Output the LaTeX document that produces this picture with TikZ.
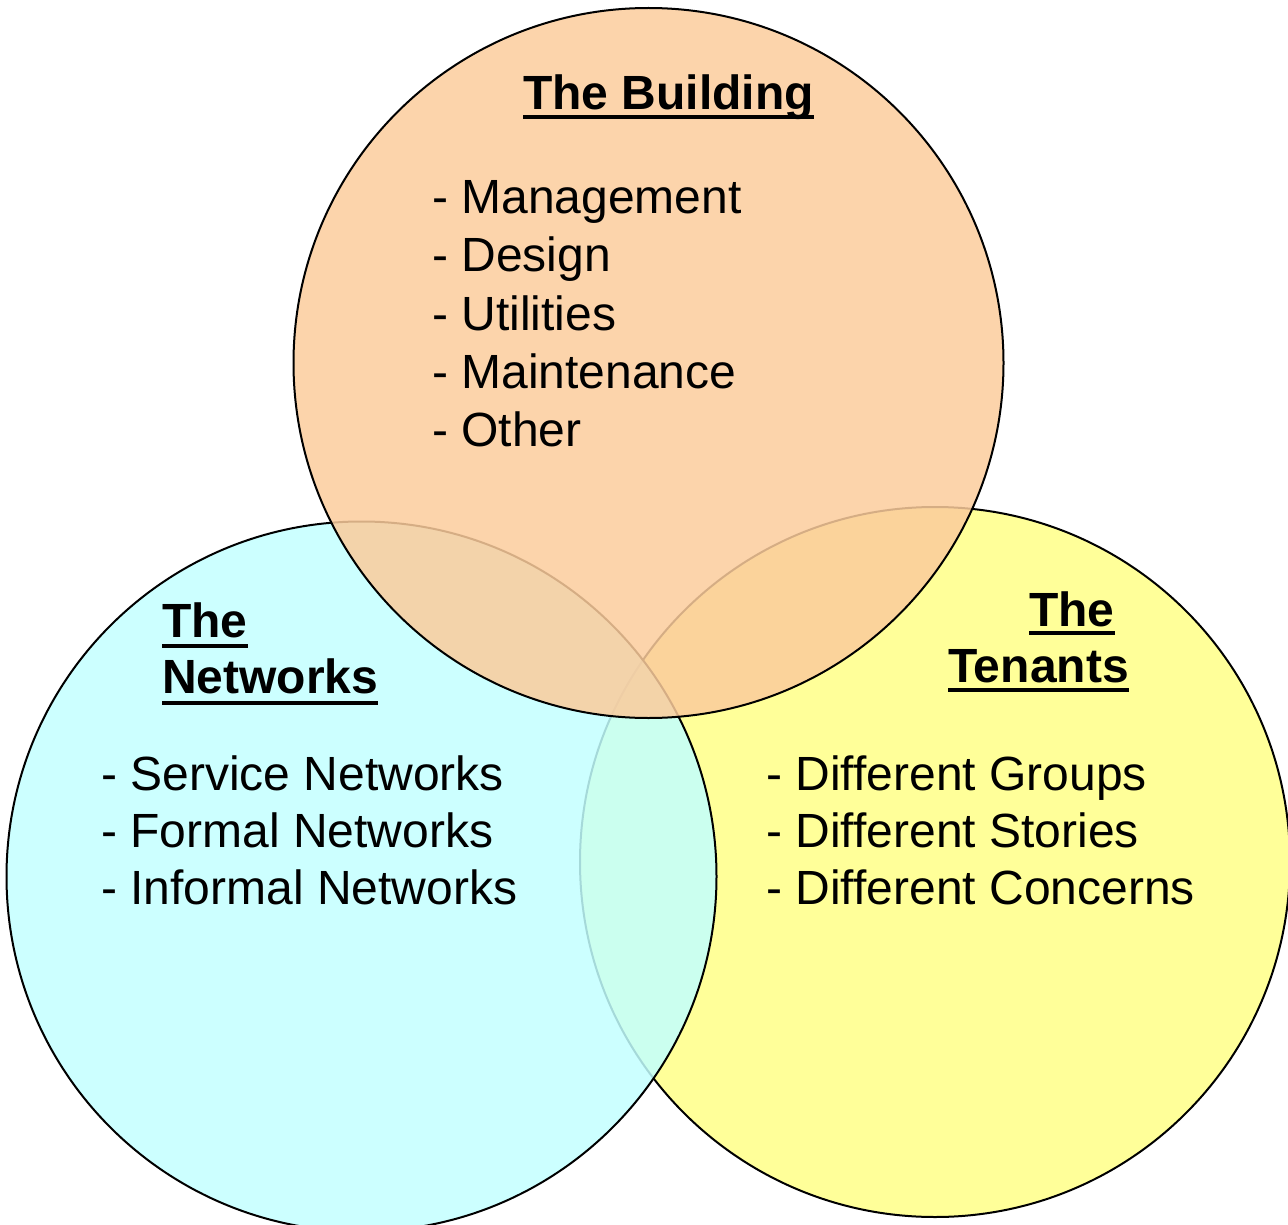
\documentclass[tikz,border=0pt]{standalone}
\usepackage{fontspec}
\setmainfont{Liberation Sans}
\definecolor{bldg}{RGB}{251,204,156}
\definecolor{netw}{RGB}{195,255,255}
\definecolor{tent}{RGB}{255,255,153}
\begin{document}
\begin{tikzpicture}[x=1pt,y=-1pt,
  venn/.style={circle, draw=black, line width=2pt, inner sep=0pt, minimum size=710pt},
  title/.style={anchor=base west, inner sep=0pt, font=\bfseries\fontsize{48}{58}\selectfont},
  item/.style={anchor=base west, inner sep=0pt, font=\fontsize{48}{57}\selectfont},
  uline/.style={line width=4.5pt}]
\useasboundingbox (0,0) rectangle (1288,1225);
\clip (0,0) rectangle (1288,1225);
% circles
\node[venn, fill=tent] (tenants) at (935,862) {};
\node[venn, fill=netw, fill opacity=0.85] (networks) at (361.5,876.5) {};
\node[venn, fill=bldg, fill opacity=0.85] (building) at (648.5,363) {};
% The Building
\node[title] (bT) at (523,110) {The Building};
\draw[uline] ([yshift=-7pt]bT.base west) -- ([yshift=-7pt]bT.base east);
\node[item] (b1) at (432,214) {- Management};
\node[item] (b2) at (432,272) {- Design};
\node[item] (b3) at (432,330) {- Utilities};
\node[item] (b4) at (432,388) {- Maintenance};
\node[item] (b5) at (432,446) {- Other};
% The Networks
\node[title] (nT1) at (162,637) {The};
\draw[uline] ([yshift=-9pt]nT1.base west) -- ([yshift=-9pt]nT1.base east);
\node[title] (nT2) at (162,693) {Networks};
\draw[uline] ([yshift=-10pt]nT2.base west) -- ([yshift=-10pt]nT2.base east);
\node[item] (n1) at (101,790) {- Service Networks};
\node[item] (n2) at (101,847) {- Formal Networks};
\node[item] (n3) at (101,904) {- Informal Networks};
% The Tenants
\node[title] (tT1) at (1029,626) {The};
\draw[uline] ([yshift=-7pt]tT1.base west) -- ([yshift=-7pt]tT1.base east);
\node[title] (tT2) at (948,682) {Tenants};
\draw[uline] ([yshift=-8pt]tT2.base west) -- ([yshift=-8pt]tT2.base east);
\node[item] (t1) at (766,790) {- Different Groups};
\node[item] (t2) at (766,847) {- Different Stories};
\node[item] (t3) at (766,904) {- Different Concerns};
\end{tikzpicture}
\end{document}
